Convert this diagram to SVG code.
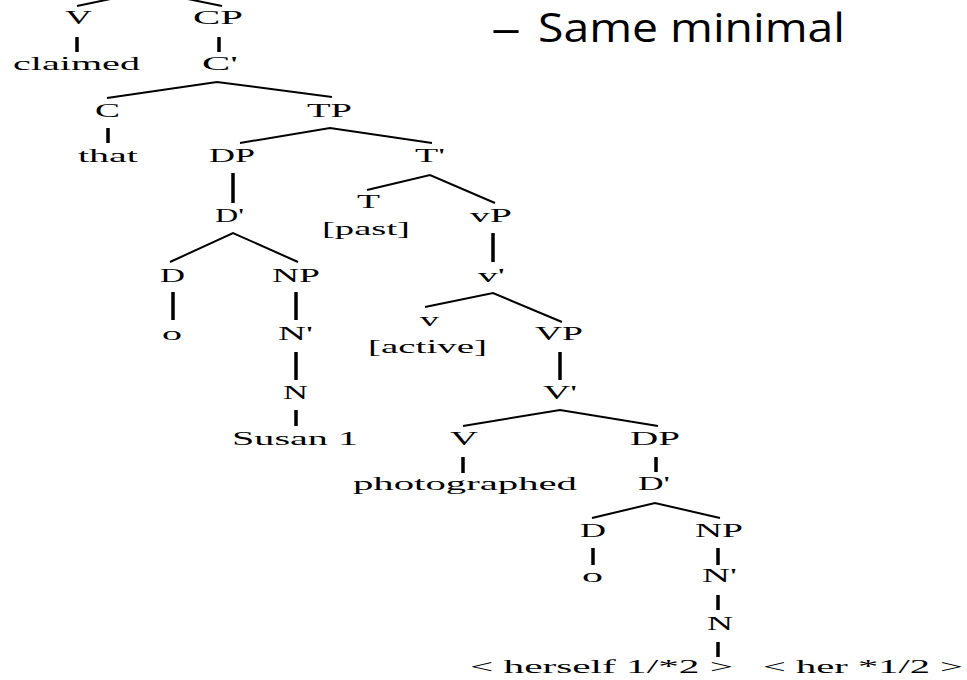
<svg xmlns="http://www.w3.org/2000/svg" width="967" height="680" viewBox="0 0 967 680">
<style>
.t{font-family:"Liberation Serif","Times New Roman",serif;font-size:19px;fill:#000}
.h{font-family:"Open Sans","Liberation Sans",sans-serif;font-size:40px;fill:#000}
.d{stroke:#000;stroke-width:2;fill:none}
.s{stroke:#000;stroke-width:3.5;fill:none}
</style>
<rect width="967" height="680" fill="#fff"/>
<g id="heading">
<text class="h" x="491" y="42" textLength="30" lengthAdjust="spacingAndGlyphs">–</text>
<text class="h" x="538" y="42" textLength="307" lengthAdjust="spacingAndGlyphs">Same minimal</text>
</g>
<g id="connectors">
<line class="d" x1="77" y1="6" x2="120" y2="-3"/>
<line class="d" x1="178" y1="-3" x2="222" y2="6"/>
<polyline class="d" points="107,98 217,82 332,97"/>
<polyline class="d" points="240,143 330,128 432,143"/>
<polyline class="d" points="367,190 430,175 495,203"/>
<polyline class="d" points="170,262 233,233 298,262"/>
<polyline class="d" points="425,307 493,293 562,322"/>
<polyline class="d" points="463,426 560,410 658,426"/>
<polyline class="d" points="592,518 655,503 720,518"/>
<line class="s" x1="77" y1="37" x2="77" y2="52"/>
<line class="s" x1="219" y1="37" x2="219" y2="52"/>
<line class="s" x1="108" y1="128" x2="108" y2="143"/>
<line class="s" x1="233" y1="173" x2="233" y2="203"/>
<line class="s" x1="493" y1="233" x2="493" y2="262"/>
<line class="s" x1="173" y1="292" x2="173" y2="320"/>
<line class="s" x1="296" y1="292" x2="296" y2="320"/>
<line class="s" x1="296" y1="352" x2="296" y2="380"/>
<line class="s" x1="296" y1="410" x2="296" y2="426"/>
<line class="s" x1="560" y1="352" x2="560" y2="380"/>
<line class="s" x1="463" y1="457" x2="463" y2="473"/>
<line class="s" x1="656" y1="457" x2="656" y2="472"/>
<line class="s" x1="593" y1="548" x2="593" y2="565"/>
<line class="s" x1="718" y1="548" x2="718" y2="565"/>
<line class="s" x1="718" y1="595" x2="718" y2="610"/>
<line class="s" x1="718" y1="642" x2="718" y2="657"/>
</g>
<g id="n-V1"><text class="t" x="65" y="24" textLength="27" lengthAdjust="spacingAndGlyphs">V</text></g>
<g id="n-CP"><text class="t" x="193" y="24" textLength="50" lengthAdjust="spacingAndGlyphs">CP</text></g>
<g id="n-claimed"><text class="t" x="13" y="70" textLength="127" lengthAdjust="spacingAndGlyphs">claimed</text></g>
<g id="n-Cbar"><text class="t" x="202" y="70" textLength="36" lengthAdjust="spacingAndGlyphs">C'</text></g>
<g id="n-C"><text class="t" x="95" y="117" textLength="25" lengthAdjust="spacingAndGlyphs">C</text></g>
<g id="n-TP"><text class="t" x="307" y="117" textLength="45" lengthAdjust="spacingAndGlyphs">TP</text></g>
<g id="n-that"><text class="t" x="78" y="162" textLength="60" lengthAdjust="spacingAndGlyphs">that</text></g>
<g id="n-DP1"><text class="t" x="209" y="162" textLength="46" lengthAdjust="spacingAndGlyphs">DP</text></g>
<g id="n-Tbar"><text class="t" x="415" y="162" textLength="30" lengthAdjust="spacingAndGlyphs">T'</text></g>
<g id="n-T"><text class="t" x="357" y="208" textLength="23" lengthAdjust="spacingAndGlyphs">T</text></g>
<g id="n-past"><text class="t" x="322" y="235" textLength="88" lengthAdjust="spacingAndGlyphs">[past]</text></g>
<g id="n-Dbar1"><text class="t" x="215" y="222" textLength="29" lengthAdjust="spacingAndGlyphs">D'</text></g>
<g id="n-vP"><text class="t" x="470" y="222" textLength="42" lengthAdjust="spacingAndGlyphs">vP</text></g>
<g id="n-D1"><text class="t" x="160" y="282" textLength="25" lengthAdjust="spacingAndGlyphs">D</text></g>
<g id="n-NP1"><text class="t" x="272" y="282" textLength="48" lengthAdjust="spacingAndGlyphs">NP</text></g>
<g id="n-vbar"><text class="t" x="478" y="282" textLength="27" lengthAdjust="spacingAndGlyphs">v'</text></g>
<g id="n-zero1"><text class="t" x="162" y="340" textLength="20" lengthAdjust="spacingAndGlyphs">o</text></g>
<g id="n-Nbar1"><text class="t" x="278" y="340" textLength="35" lengthAdjust="spacingAndGlyphs">N'</text></g>
<g id="n-v"><text class="t" x="420" y="326" textLength="19" lengthAdjust="spacingAndGlyphs">v</text></g>
<g id="n-active"><text class="t" x="368" y="353" textLength="119" lengthAdjust="spacingAndGlyphs">[active]</text></g>
<g id="n-VP"><text class="t" x="535" y="340" textLength="48" lengthAdjust="spacingAndGlyphs">VP</text></g>
<g id="n-N1"><text class="t" x="283" y="399" textLength="25" lengthAdjust="spacingAndGlyphs">N</text></g>
<g id="n-Vbar"><text class="t" x="543" y="399" textLength="34" lengthAdjust="spacingAndGlyphs">V'</text></g>
<g id="n-Susan"><text class="t" x="232" y="445" textLength="126" lengthAdjust="spacingAndGlyphs">Susan 1</text></g>
<g id="n-V2"><text class="t" x="450" y="445" textLength="28" lengthAdjust="spacingAndGlyphs">V</text></g>
<g id="n-DP2"><text class="t" x="630" y="445" textLength="50" lengthAdjust="spacingAndGlyphs">DP</text></g>
<g id="n-photographed"><text class="t" x="353" y="490" textLength="224" lengthAdjust="spacingAndGlyphs">photographed</text></g>
<g id="n-Dbar2"><text class="t" x="638" y="490" textLength="32" lengthAdjust="spacingAndGlyphs">D'</text></g>
<g id="n-D2"><text class="t" x="580" y="537" textLength="26" lengthAdjust="spacingAndGlyphs">D</text></g>
<g id="n-NP2"><text class="t" x="695" y="537" textLength="48" lengthAdjust="spacingAndGlyphs">NP</text></g>
<g id="n-zero2"><text class="t" x="582" y="582" textLength="21" lengthAdjust="spacingAndGlyphs">o</text></g>
<g id="n-Nbar2"><text class="t" x="702" y="582" textLength="35" lengthAdjust="spacingAndGlyphs">N'</text></g>
<g id="n-N2"><text class="t" x="707" y="630" textLength="26" lengthAdjust="spacingAndGlyphs">N</text></g>
<g id="n-herself"><text class="t" x="470" y="673" textLength="263" lengthAdjust="spacingAndGlyphs">&lt; herself 1/*2 &gt;</text></g>
<g id="n-her"><text class="t" x="763" y="673" textLength="200" lengthAdjust="spacingAndGlyphs">&lt; her *1/2 &gt;</text></g>
</svg>
